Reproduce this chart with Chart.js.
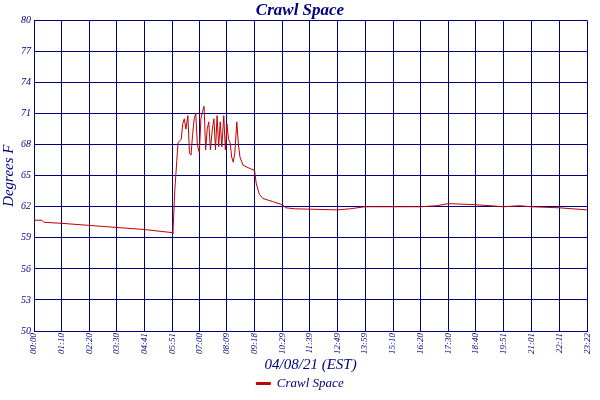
<!DOCTYPE html><html><head><meta charset="utf-8">
<script src="https://cdn.jsdelivr.net/npm/chart.js@4/dist/chart.umd.min.js"></script>
<style>html,body{margin:0;background:#fff}#w{width:600px;height:400px}</style></head><body><div id="w"><canvas id="c"></canvas></div>
<script>
const tickMinutes=[0,70,140,210,281,351,420,489,558,629,699,769,839,910,980,1050,1120,1191,1261,1331,1402];
const tickLabels=["00:00","01:10","02:20","03:30","04:41","05:51","07:00","08:09","09:18","10:29","11:39","12:49","13:59","15:10","16:20","17:30","18:40","19:51","21:01","22:11","23:22"];
const times=[0,20,25,70,140,210,280,351,352,357,365,373,377,381,385,390,394,398,402,406,410,414,419,423,427,431,435,439,443,447,452,456,460,464,468,472,476,481,485,489,493,497,501,505,509,514,518,522,530,547,559,563,571,580,605,629,638,663,769,800,839,910,980,1020,1050,1120,1191,1230,1261,1331,1402];
const temps=[60.7,60.7,60.5,60.4,60.2,60.0,59.8,59.5,59.4,63.7,68.2,68.5,70.0,70.5,69.5,70.8,67.2,67.0,69.0,70.5,71.0,68.0,67.2,70.5,71.2,71.7,67.5,69.5,70.2,67.5,69.5,70.5,67.5,70.8,67.8,70.2,67.8,70.8,67.5,70.0,68.5,68.2,66.8,66.3,67.2,70.2,68.0,66.8,66.0,65.7,65.5,64.3,63.2,62.8,62.5,62.2,61.9,61.8,61.7,61.8,62.0,62.0,62.0,62.1,62.3,62.2,62.0,62.1,62.0,61.9,61.7];
const yTicks=[50,53,56,59,62,65,68,71,74,77,80];
const navy='#000080';
const f=(s,st)=>({family:'Liberation Serif',size:s,style:st||'italic'});
new Chart(document.getElementById('c'),{type:'line',
data:{datasets:[{label:'Crawl Space',data:times.map((t,i)=>({x:t,y:temps[i]})),borderColor:'#c00000',backgroundColor:'#c00000',borderWidth:1,pointRadius:0,tension:0}]},
options:{responsive:true,maintainAspectRatio:false,animation:false,layout:{padding:{right:0,top:0,bottom:0}},
plugins:{title:{display:true,text:'Crawl Space',color:navy,font:f(17,'italic'),padding:{top:0,bottom:0}},
legend:{position:'bottom',labels:{color:navy,font:f(13),boxWidth:14,boxHeight:2,padding:3}},tooltip:{enabled:false}},
scales:{x:{type:'linear',min:0,max:1402,
afterBuildTicks:a=>{a.ticks=tickMinutes.map(v=>({value:v}));},
ticks:{autoSkip:false,maxRotation:90,minRotation:90,color:navy,font:f(9),padding:2,callback:(v,i)=>tickLabels[i]},
grid:{color:navy,lineWidth:1,drawTicks:false},border:{color:navy},
title:{display:true,text:'04/08/21 (EST)',color:navy,font:f(15),padding:{top:0,bottom:0}}},
y:{min:50,max:80,afterBuildTicks:a=>{a.ticks=yTicks.map(v=>({value:v}));},
ticks:{color:navy,font:f(10),padding:3},grid:{color:navy,lineWidth:1,drawTicks:false},border:{color:navy},
title:{display:true,text:'Degrees F',color:navy,font:f(15),padding:0}}}}});
</script></body></html>
